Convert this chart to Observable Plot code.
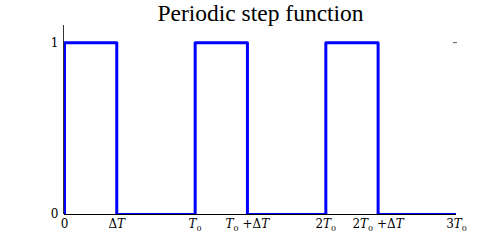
<!DOCTYPE html>
<html>
<head>
<meta charset="utf-8">
<script src="https://cdn.jsdelivr.net/npm/d3@7"></script>
<script src="https://cdn.jsdelivr.net/npm/@observablehq/plot@0.6"></script>
<style>
  body { margin: 0; background: #fff; }
  svg { font-family: "DejaVu Serif", serif; }
</style>
</head>
<body>
<div id="chart"></div>
<script>
const title = "Periodic step function";
// step vertices (in units of T0; ΔT ≈ 0.4 T0)
const stepX = [0, 0, 0.4, 1, 1.4, 2, 2.4, 3];
const stepY = [0, 1, 0, 1, 0, 1, 0, 0];
const xTickValues = [0, 0.4, 1, 1.4, 2, 2.4, 3];
const xTickLabels = ["0", "ΔT", "T_0", "T_0 +ΔT", "2T_0", "2T_0 +ΔT", "3T_0"];
const yTickValues = [0, 1];
const yTickLabels = ["0", "1"];

const data = stepX.map((x, i) => ({x, y: stepY[i]}));

const plot = Plot.plot({
  width: 491,
  height: 245,
  marginLeft: 64,
  marginRight: 35,
  marginTop: 25,
  marginBottom: 31,
  style: {fontFamily: "DejaVu Serif, serif", fontSize: "12px", color: "#000", background: "#fff"},
  x: {domain: [0, 3], label: null},
  y: {domain: [0, 1.1], label: null},
  marks: [
    Plot.line(data, {x: "x", y: "y", curve: "step-after", stroke: "#0000ff", strokeWidth: 3, clip: true}),
    Plot.ruleY([0], {stroke: "#000", strokeWidth: 1}),
    Plot.ruleX([0], {stroke: "#333", strokeWidth: 1, dx: -1}),
    Plot.axisX({ticks: xTickValues, tickSize: 0, tickPadding: 5, label: null,
      tickFormat: (d) => xTickLabels[xTickValues.indexOf(d)], fontSize: 12}),
    Plot.axisY({ticks: yTickValues, tickSize: 0, tickPadding: 6, label: null,
      tickFormat: (d) => yTickLabels[yTickValues.indexOf(d)], fontSize: 12}),
    Plot.axisY({anchor: "right", ticks: [1], tickSize: -4, tickFormat: () => "", label: null, stroke: "#555"}),
    Plot.text([title], {frameAnchor: "top", dy: -5, lineAnchor: "bottom", fontSize: 23.5, fill: "#000",
      fontFamily: "Liberation Serif, serif"})
  ]
});

// render subscripts/italics in x tick labels
plot.querySelectorAll('g[aria-label="x-axis tick label"] text').forEach((t) => {
  const s = t.textContent;
  if (!/T/.test(s)) return;
  while (t.firstChild) t.removeChild(t.firstChild);
  const parts = s.split(/(T_0|T)/).filter((p) => p !== "");
  let shift = 0;
  const ns = "http://www.w3.org/2000/svg";
  parts.forEach((p) => {
    if (p === "T_0") {
      const a = document.createElementNS(ns, "tspan");
      a.setAttribute("font-style", "italic");
      if (shift) { a.setAttribute("dy", -shift); shift = 0; }
      a.textContent = "T";
      t.appendChild(a);
      const b = document.createElementNS(ns, "tspan");
      b.setAttribute("font-size", "8");
      b.setAttribute("dy", 3);
      shift = 3;
      b.textContent = "0";
      t.appendChild(b);
    } else {
      const a = document.createElementNS(ns, "tspan");
      if (p === "T") a.setAttribute("font-style", "italic");
      if (shift) { a.setAttribute("dy", -shift); shift = 0; }
      a.textContent = p;
      t.appendChild(a);
    }
  });
});

document.getElementById("chart").appendChild(plot);
</script>
</body>
</html>
